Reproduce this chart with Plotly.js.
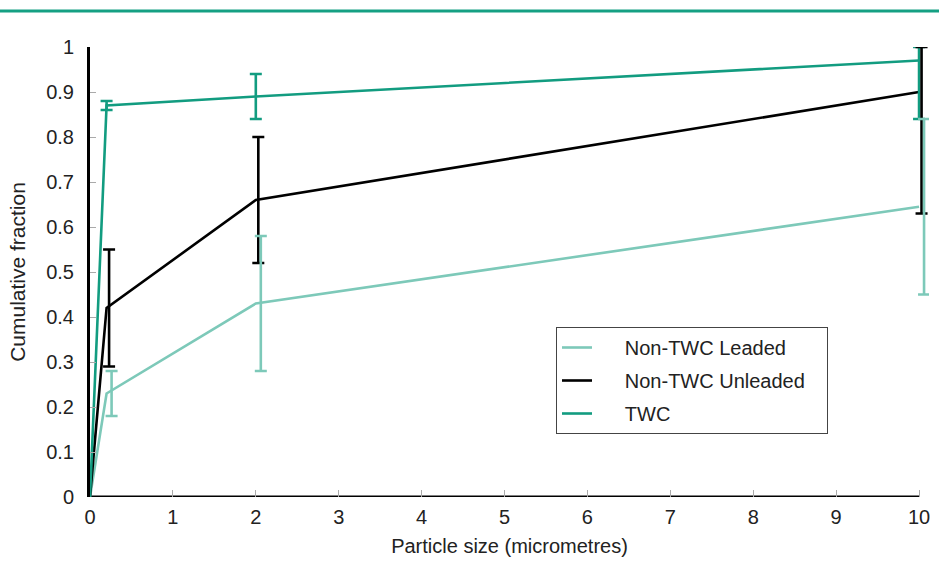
<!DOCTYPE html>
<html>
<head>
<meta charset="utf-8">
<script src="https://cdn.plot.ly/plotly-3.0.1.min.js"></script>
<style>html,body{margin:0;padding:0;background:#fff;}#chart{width:939px;height:565px;}</style>
</head>
<body>
<div id="chart"></div>
<script>
// Particle size (micrometres)
const particleSize = [0, 0.2, 2, 10];

// Cumulative fraction
const leaded = [0, 0.23, 0.43, 0.645];
const leadedErrPlus = [0, 0.05, 0.15, 0.195];
const leadedErrMinus = [0, 0.05, 0.15, 0.195];

const unleaded = [0, 0.42, 0.66, 0.90];
const unleadedErrPlus = [0, 0.13, 0.14, 0.10];
const unleadedErrMinus = [0, 0.13, 0.14, 0.27];

const twc = [0, 0.87, 0.89, 0.97];
const twcErrPlus = [0, 0.01, 0.05, 0.03];
const twcErrMinus = [0, 0.01, 0.05, 0.13];

const seriesNames = ['Non-TWC Leaded', 'Non-TWC Unleaded', 'TWC'];
const xTicks = [0, 1, 2, 3, 4, 5, 6, 7, 8, 9, 10];
const yTicks = [0, 0.1, 0.2, 0.3, 0.4, 0.5, 0.6, 0.7, 0.8, 0.9, 1];

const cLeaded = '#7dc9b9';
const cUnleaded = '#000000';
const cTwc = '#129c80';
const fontFam = '"Liberation Sans", Arial, sans-serif';

const xMin = xTicks[0], xMax = xTicks[xTicks.length - 1];
const pxPerUnit = 82.9;          // 829 px for the 0..10 span
const xPad = 0.12;               // extra room right of x = 10 for offset error bars
const plotW = Math.round((xMax - xMin + xPad) * pxPerUnit);

function lineTrace(y, name, color, group) {
  return {
    x: particleSize, y: y, name: name, type: 'scatter', mode: 'lines',
    line: {color: color, width: 2.6}, legendgroup: group, cliponaxis: false
  };
}
function errTrace(y, plus, minus, color, xaxis) {
  return {
    x: particleSize.slice(1), y: y.slice(1), type: 'scatter', mode: 'markers',
    marker: {size: 1, opacity: 0}, showlegend: false, hoverinfo: 'skip',
    xaxis: xaxis, cliponaxis: false,
    error_y: {type: 'data', symmetric: false, array: plus.slice(1), arrayminus: minus.slice(1),
              color: color, thickness: 2.6, width: 6}
  };
}

const nb = n => '\u00a0'.repeat(n);
const data = [
  errTrace(leaded, leadedErrPlus, leadedErrMinus, cLeaded, 'x3'),
  errTrace(unleaded, unleadedErrPlus, unleadedErrMinus, cUnleaded, 'x2'),
  lineTrace(leaded, nb(5) + seriesNames[0] + nb(6), cLeaded, 'a'),
  lineTrace(unleaded, nb(5) + seriesNames[1] + nb(3), cUnleaded, 'b'),
  errTrace(twc, twcErrPlus, twcErrMinus, cTwc, 'x'),
  lineTrace(twc, nb(5) + seriesNames[2], cTwc, 'c')
];

// overlay axis whose range is shifted so its marks sit `px` pixels to the right
const shiftedX = (px) => ({
  overlaying: 'x', anchor: 'y',
  range: [xMin - px / pxPerUnit, xMax + xPad - px / pxPerUnit],
  visible: false, showgrid: false, zeroline: false
});

const layout = {
  width: 939, height: 565,
  margin: {l: 90, r: 939 - 90 - plotW, t: 47, b: 68},
  paper_bgcolor: '#fff', plot_bgcolor: '#fff',
  font: {family: fontFam, size: 20, color: '#222'},
  showlegend: true,
  xaxis: {
    range: [xMin, xMax + xPad], tickvals: xTicks, ticktext: xTicks.map(String),
    showgrid: false, zeroline: false, showline: false,
    ticks: 'inside', ticklen: 7, tickwidth: 1, tickcolor: '#aaa',
    ticklabelstandoff: 6,
    tickfont: {size: 20, color: '#222'},
    title: {text: 'Particle size (micrometres)', font: {size: 20, color: '#222'}, standoff: 11}
  },
  xaxis2: shiftedX(2.5),
  xaxis3: shiftedX(5),
  yaxis: {
    range: [0, 1], tickvals: yTicks, ticktext: yTicks.map(v => String(+v.toFixed(1))),
    showgrid: false, zeroline: false,
    showline: true, linecolor: '#000', linewidth: 3,
    ticks: 'inside', ticklen: 6, tickwidth: 1, tickcolor: '#aaa',
    ticklabelstandoff: 9,
    tickfont: {size: 20, color: '#222'},
    title: {text: 'Cumulative fraction', font: {size: 21, color: '#222'}, standoff: 15}
  },
  legend: {
    x: (556 - 90) / plotW, y: (497 - 327) / 450, xanchor: 'left', yanchor: 'top',
    bgcolor: '#fff', bordercolor: '#444', borderwidth: 1,
    font: {family: fontFam, size: 20, color: '#222'},
    tracegroupgap: 4, traceorder: 'grouped'
  },
  shapes: [
    { // x-axis line spanning 0..10 only
      type: 'line', xref: 'x', yref: 'y', layer: 'below',
      x0: xMin, x1: xMax, y0: 0, y1: 0,
      line: {color: '#000', width: 3}
    },
    { // top rule
      type: 'line', xref: 'paper', yref: 'paper',
      x0: -90 / plotW, x1: 1 + (939 - 90 - plotW) / plotW, y0: 1 + 36 / 450, y1: 1 + 36 / 450,
      line: {color: '#15a083', width: 3}
    }
  ]
};

Plotly.newPlot('chart', data, layout, {displayModeBar: false, staticPlot: true});
</script>
</body>
</html>
